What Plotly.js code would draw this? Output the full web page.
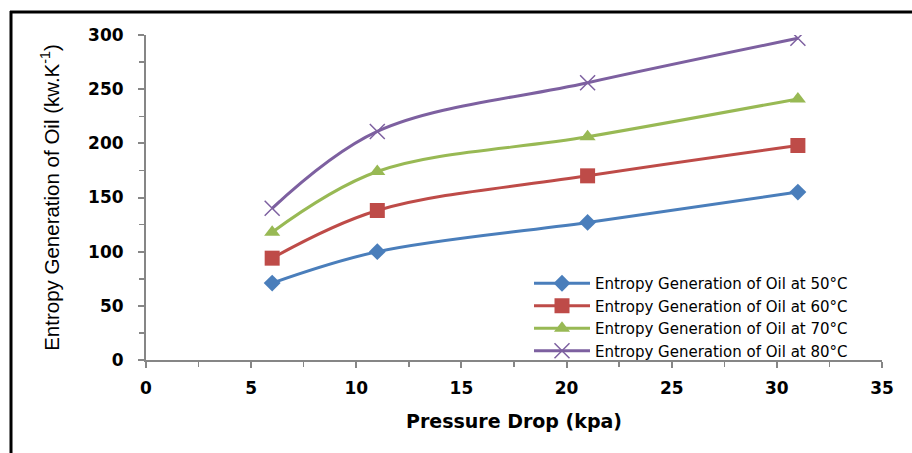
<!DOCTYPE html>
<html>
<head>
<meta charset="utf-8">
<script src="https://cdn.plot.ly/plotly-3.0.1.min.js"></script>
<style>
  html, body { margin: 0; padding: 0; background: #ffffff; }
  #chart { width: 912px; height: 453px; }
</style>
</head>
<body>
<div id="chart"></div>
<script>
// Data
const pressureDrop = [6, 11, 21, 31];
const oil50 = [71, 100, 127, 155];
const oil60 = [94, 138, 170, 198];
const oil70 = [118, 174, 206, 241];
const oil80 = [140, 211, 256, 297];
const seriesNames = [
  'Entropy Generation of Oil at 50°C',
  'Entropy Generation of Oil at 60°C',
  'Entropy Generation of Oil at 70°C',
  'Entropy Generation of Oil at 80°C'
];
const xTitle = 'Pressure Drop (kpa)';
const yTitle = 'Entropy Generation of Oil (kw.K<sup>-1</sup>)';

const colors = ['#4A7EBB', '#BE4B48', '#98B954', '#7D60A0'];
const symbols = ['diamond', 'square', 'triangle-up', 'x-thin-open'];
const sizes = [13, 15, 14, 15];
const values = [oil50, oil60, oil70, oil80];

const traces = values.map((v, i) => ({
  x: pressureDrop,
  y: v,
  name: seriesNames[i],
  type: 'scatter',
  mode: 'lines+markers',
  line: { color: colors[i], width: 3, shape: 'spline', smoothing: 1 },
  marker: {
    symbol: symbols[i],
    size: sizes[i],
    color: colors[i],
    line: i === 3 ? { color: colors[i], width: 1.5 } : { width: 0 }
  }
}));

const L = 146, R = 30, T = 35, B = 93;
const W = 912, H = 453;
const pw = W - L - R, ph = H - T - B;
const px2x = p => (p - L) / pw;
const py2y = p => (H - B - p) / ph;

const layout = {
  width: W,
  height: H,
  margin: { l: L, r: R, t: T, b: B },
  paper_bgcolor: '#ffffff',
  plot_bgcolor: '#ffffff',
  showlegend: true,
  legend: {
    x: px2x(529), y: py2y(267), xanchor: 'left', yanchor: 'top',
    bgcolor: 'rgba(255,255,255,0)',
    font: { family: 'DejaVu Sans', size: 15, color: '#000000' },
    itemwidth: 56,
    tracegroupgap: 0
  },
  xaxis: {
    range: [0, 35],
    dtick: 5,
    tick0: 0,
    ticks: 'outside',
    ticklen: 6,
    tickwidth: 2,
    tickcolor: '#868686',
    showline: true,
    linecolor: '#868686',
    linewidth: 2,
    showgrid: false,
    zeroline: false,
    ticklabelstandoff: 6,
    minor: { dtick: 2.5, ticks: 'outside', ticklen: 5, tickwidth: 1.5, tickcolor: '#868686', showgrid: false },
    tickfont: { family: 'DejaVu Sans', size: 17, color: '#000000', weight: 'bold' },
    title: { text: xTitle, font: { family: 'DejaVu Sans', size: 19, color: '#000000', weight: 'bold' }, standoff: 17 },
    fixedrange: true
  },
  yaxis: {
    range: [0, 300],
    dtick: 50,
    tick0: 0,
    ticks: 'outside',
    ticklen: 6,
    tickwidth: 2,
    tickcolor: '#868686',
    showline: true,
    linecolor: '#868686',
    linewidth: 2,
    showgrid: false,
    zeroline: false,
    ticklabelstandoff: 11,
    minor: { dtick: 25, ticks: 'outside', ticklen: 5, tickwidth: 1.5, tickcolor: '#868686', showgrid: false },
    tickfont: { family: 'DejaVu Sans', size: 17, color: '#000000', weight: 'bold' },
    title: { text: yTitle, font: { family: 'Liberation Sans', size: 20.5, color: '#000000' }, standoff: 23 },
    fixedrange: true
  },
  shapes: [
    { type: 'line', xref: 'paper', yref: 'paper', x0: px2x(10), x1: px2x(915), y0: py2y(12), y1: py2y(12), line: { color: '#000000', width: 3 } },
    { type: 'line', xref: 'paper', yref: 'paper', x0: px2x(11), x1: px2x(11), y0: py2y(11), y1: py2y(460), line: { color: '#000000', width: 3 } }
  ]
};

Plotly.newPlot('chart', traces, layout, { displayModeBar: false, staticPlot: true });
</script>
</body>
</html>
